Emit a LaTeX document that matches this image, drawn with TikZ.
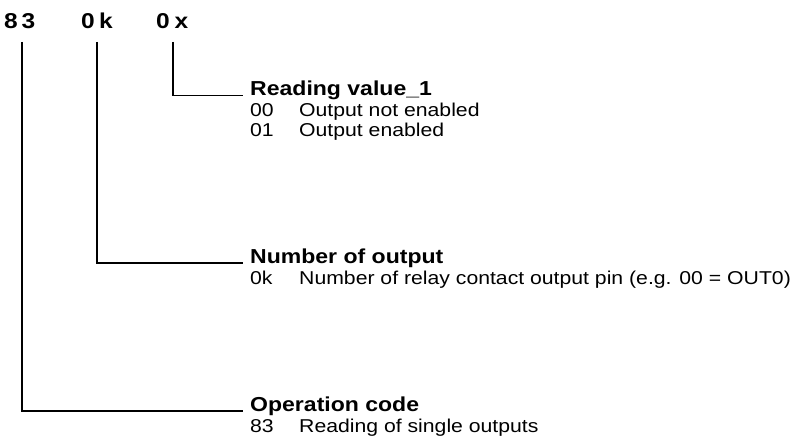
\documentclass[tikz,border=0pt]{standalone}
\usepackage{fontspec}
\setmainfont[FakeStretch=1.14]{Liberation Sans}
\begin{document}
\begin{tikzpicture}[x=1pt,y=-1pt,
  hdr/.style={inner sep=0pt,anchor=base west,font=\fontsize{21.5}{26}\selectfont\bfseries},
  ttl/.style={inner sep=0pt,anchor=base west,font=\fontsize{20.2}{24}\selectfont\bfseries},
  txt/.style={inner sep=0pt,anchor=base west,font=\fontsize{18.6}{22}\selectfont},
  conn/.style={line width=1.4pt,black}]
\useasboundingbox (0,0) rectangle (796,446);
% header
\node[hdr] (h83) at (4,29) {\addfontfeature{LetterSpace=18}83};
\node[hdr] (h0k) at (81,29) {\addfontfeature{LetterSpace=20}0k};
\node[hdr] (h0x) at (156,29) {\addfontfeature{LetterSpace=22}0x};
% reading value
\node[ttl] (t3) at (250,96) {Reading value\_1};
\node[txt] (c3a) at (250,116.5) {00};
\node[txt] (d3a) at (299,116.5) {Output not enabled};
\node[txt] (c3b) at (250,136.5) {01};
\node[txt] (d3b) at (299,136.5) {Output enabled};
% number of output
\node[ttl] (t2) at (250,264) {Number of output};
\node[txt] (c2a) at (250,284.5) {0k};
\node[txt] (d2a) at (299,284.5) {Number of relay contact output pin (e.g. 00 = OUT0)};
% operation code
\node[ttl] (t1) at (250,412) {Operation code};
\node[txt] (c1a) at (250,432.5) {83};
\node[txt] (d1a) at (299,432.5) {Reading of single outputs};
% connectors
\coordinate (s1) at (22,42);
\coordinate (s2) at (97,42);
\coordinate (s3) at (173,42);
\coordinate (e1) at (243,411);
\coordinate (e2) at (243,263);
\coordinate (e3) at (243,95.5);
\draw[conn] (s1) |- (e1);
\draw[conn] (s2) |- (e2);
\draw[conn] (s3) |- (e3);
\end{tikzpicture}
\end{document}
